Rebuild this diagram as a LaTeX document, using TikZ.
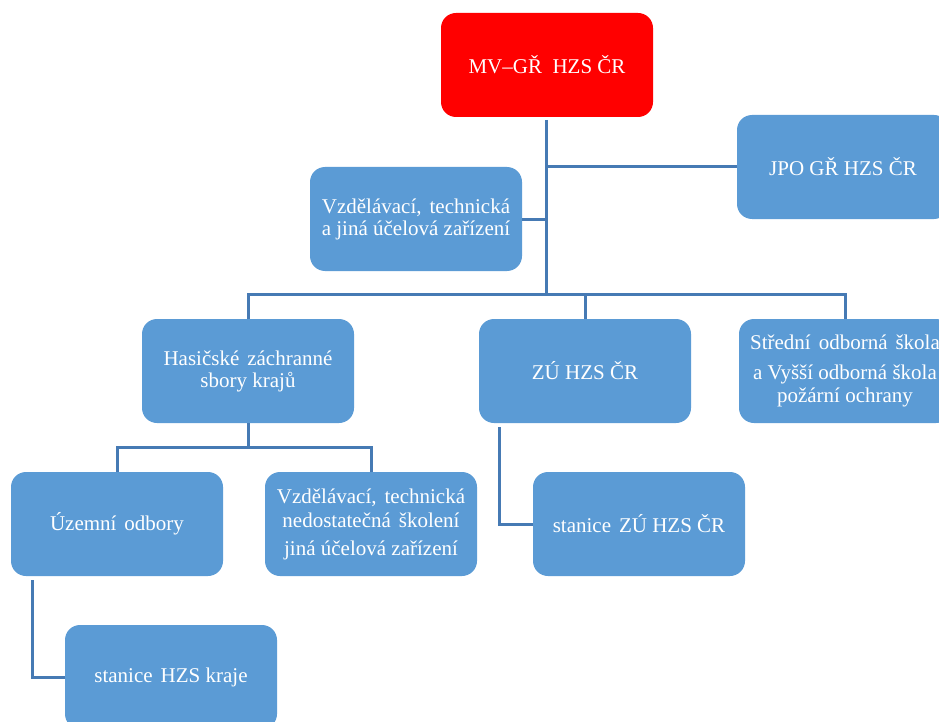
\documentclass[tikz,border=0pt]{standalone}
\usepackage{fontspec}
\setmainfont{Liberation Serif}
\definecolor{boxblue}{RGB}{91,155,213}
\definecolor{linec}{RGB}{70,122,180}
\definecolor{topred}{RGB}{255,0,0}
\newcommand{\wsp}{\hspace{8pt}}
\begin{document}
\begin{tikzpicture}[x=1pt,y=-1pt,
  box/.style={rectangle, rounded corners=15pt, fill=boxblue, text=white,
    minimum width=212pt, minimum height=104pt, inner sep=0pt, outer sep=0pt,
    align=center, font=\fontsize{21}{22}\selectfont},
  conn/.style={draw=linec, line width=3pt}]
\useasboundingbox (0,0) rectangle (939,722);
\node[box, fill=topred] (top) at (547,65) {MV--GŘ\ \ HZS ČR};
\node[box] (jpo) at (843,167) {JPO GŘ HZS ČR};
\node[box] (vz1) at (416,219) {Vzdělávací,\wsp technická\\a jiná účelová zařízení};
\node[box] (hzk) at (248,371) {Hasičské\wsp záchranné\\sbory krajů};
\node[box] (zu) at (585,371) {ZÚ HZS ČR};
\node[box] (sos) at (845,371) {Střední\wsp odborná\wsp škola\\[8pt]a Vyšší odborná škola\\[1pt]požární ochrany};
\node[box] (uz) at (117,524) {Územní\wsp odbory};
\node[box] (vz2) at (371,524) {Vzdělávací,\wsp technická\\[2pt]nedostatečná\wsp školení\\[6pt]jiná účelová zařízení};
\node[box] (stzu) at (639,524) {stanice\wsp ZÚ HZS ČR};
\node[box] (sthk) at (171,677) {stanice\wsp HZS kraje};
\coordinate (bus) at (546,294);
\coordinate (bus2) at (248,447);
\draw[conn] ([yshift=-3pt]top.south -| bus) -- (bus);
\draw[conn] (jpo.west) -- (jpo.west -| bus);
\draw[conn] (vz1.east) -- (vz1.east -| bus);
\draw[conn] (hzk.north) |- (bus);
\draw[conn] (zu.north) |- (bus);
\draw[conn] (sos.north) |- (bus);
\draw[conn] (hzk.south) -- (bus2);
\draw[conn] (uz.north) |- (bus2);
\draw[conn] (vz2.north) |- (bus2);
\draw[conn] ([xshift=20pt,yshift=-4pt]zu.south west) |- (stzu.west);
\draw[conn] ([xshift=21pt,yshift=-4pt]uz.south west) |- (sthk.west);
\end{tikzpicture}
\end{document}
